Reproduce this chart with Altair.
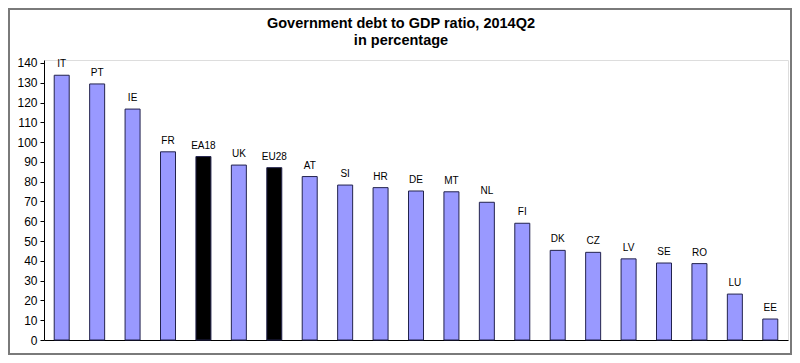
import altair as alt
import pandas as pd

countries = ["IT", "PT", "IE", "FR", "EA18", "UK", "EU28", "AT", "SI", "HR", "DE",
             "MT", "NL", "FI", "DK", "CZ", "LV", "SE", "RO", "LU", "EE"]
values = [133.8, 129.4, 116.7, 95.1, 92.7, 88.4, 87.1, 82.6, 78.3, 77.0, 75.3,
          74.9, 69.6, 59.0, 45.3, 44.3, 41.0, 38.9, 38.6, 23.2, 10.6]
kinds = ["country", "country", "country", "country", "aggregate", "country", "aggregate",
         "country", "country", "country", "country", "country", "country", "country",
         "country", "country", "country", "country", "country", "country", "country"]
y_ticks = list(range(0, 141, 10))
title_lines = ["Government debt to GDP ratio, 2014Q2", "in percentage"]

df = pd.DataFrame({"country": countries, "value": values, "kind": kinds})
one = pd.DataFrame({"k": [0]})

W, H = 744, 280
PAD_L, PAD_T, PAD_R, PAD_B = 36, 52, 4, 15

x = alt.X("country:N", sort=countries,
          scale=alt.Scale(paddingInner=0, paddingOuter=0),
          axis=alt.Axis(title=None, labels=False, ticks=False, domain=True,
                        domainColor="#000000", domainWidth=1))
y = alt.Y("value:Q", scale=alt.Scale(domain=[0, 141.5], nice=False, zero=True),
          axis=alt.Axis(title=None, values=y_ticks, grid=False, tickSize=4,
                        tickColor="#000000", domainColor="#000000",
                        labelFont="Liberation Sans", labelFontSize=12,
                        labelColor="#000000", labelPadding=3,
                        labelOverlap=False, labelFlush=False))

bars = alt.Chart(df).mark_bar(size=15, stroke="#23234d", strokeWidth=1).encode(
    x=x, y=y,
    fill=alt.Fill("kind:N", scale=alt.Scale(domain=["country", "aggregate"],
                                            range=["#9999ff", "#000000"]), legend=None),
)

labels = alt.Chart(df).mark_text(dy=-6, baseline="bottom", font="Liberation Sans",
                                 fontSize=10, color="#000000").encode(
    x=x, y=y, text="country:N")

frame = alt.Chart(one).mark_rect(fill=None, stroke="#7a7a7a", strokeWidth=2).encode(
    x=alt.value(-PAD_L + 1), x2=alt.value(W + PAD_R - 1),
    y=alt.value(-PAD_T + 1), y2=alt.value(H + PAD_B - 1))

title_style = dict(font="Liberation Sans", fontSize=14.5, fontWeight="bold",
                   baseline="alphabetic", align="center", color="#000000")
title1 = alt.Chart(one).mark_text(**title_style).encode(
    x=alt.value(357), y=alt.value(-32), text=alt.value(title_lines[0]))
title2 = alt.Chart(one).mark_text(**title_style).encode(
    x=alt.value(357), y=alt.value(-15), text=alt.value(title_lines[1]))

chart = alt.layer(bars, labels, frame, title1, title2).properties(
    width=W, height=H,
    autosize=alt.AutoSizeParams(type="none"),
    padding={"left": PAD_L, "top": PAD_T, "right": PAD_R, "bottom": PAD_B},
).configure_view(stroke="#8a8a8a", strokeWidth=1.5).configure(background="white")

chart.save("out.html", embed_options={"renderer": "svg", "actions": False})
